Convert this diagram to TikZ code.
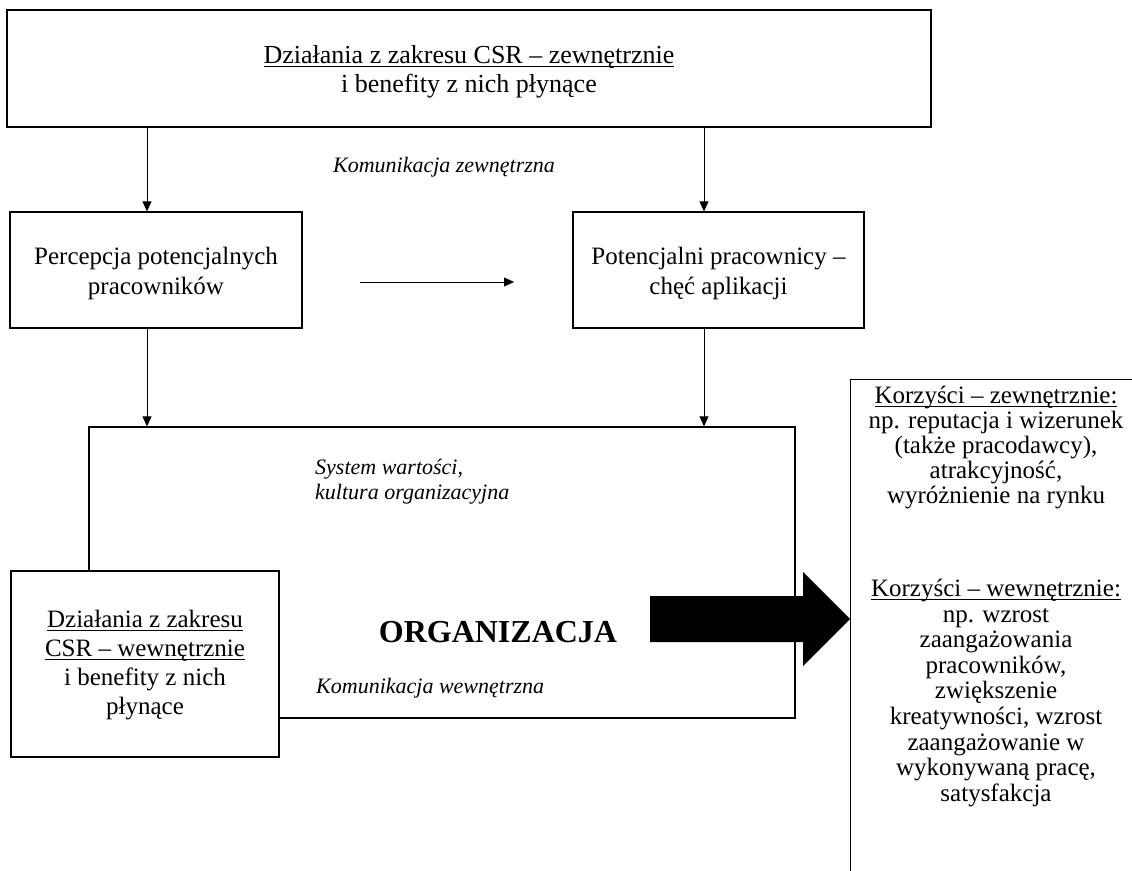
\documentclass[tikz,border=0pt]{standalone}
\usepackage{fontspec}
\setmainfont{Liberation Serif}
\usetikzlibrary{arrows.meta}
% underline at a fixed depth below the baseline
\newcommand\uln[1]{\setbox0\hbox{#1}\rlap{\rule[-0.13em]{\wd0}{0.04em}}\box0}

\begin{document}
\begin{tikzpicture}[x=1pt,y=-1pt,
  box/.style={draw, line width=1.3pt, inner sep=0pt, fill=white},
  txt/.style={align=center, inner sep=0pt},
  arr/.style={-{Triangle[length=10pt,width=9pt]}, line width=0.8pt},
  body/.style={font=\fontsize{25}{30}\selectfont},
  side/.style={align=center, inner sep=0pt},
  note/.style={font=\fontsize{22}{25}\selectfont\itshape, align=left, inner sep=0pt},
]
\useasboundingbox (0,0) rectangle (1132,870);
\fill[white] (0,0) rectangle (1132,870);

% external CSR activities
\node[box, minimum width=924pt, minimum height=117pt] (top) at (469,68.5) {};
\node[txt, font=\fontsize{26}{29}\selectfont] (top-t) at ([yshift=-3pt]top.center)
  {\uln{Działania z zakresu CSR – zewnętrznie}\\ i benefity z nich płynące};

% candidates
\node[box, minimum width=292pt, minimum height=116pt] (perc) at (156,270) {};
\node[txt, body] (perc-t) at ([yshift=-3pt]perc.center) {Percepcja potencjalnych\\ pracowników};
\node[box, minimum width=291pt, minimum height=116pt] (pot) at (718.5,270) {};
\node[txt, body] (pot-t) at ([yshift=-3pt]pot.center) {Potencjalni pracownicy –\\ chęć aplikacji};

% organisation frame
\node[box, minimum width=706pt, minimum height=291pt] (org) at (442,572.5) {};

% internal CSR activities (on top of the frame)
\node[box, minimum width=268pt, minimum height=186pt] (intern) at (145,664) {};
\node[txt, font=\fontsize{25}{29}\selectfont] (intern-t) at ([yshift=-1.5pt]intern.center)
  {\uln{Działania z zakresu}\\ \uln{CSR – wewnętrznie}\\ i benefity z nich\\ płynące};

% benefits box, running off the page
\node[box, anchor=north west, minimum width=330pt, minimum height=540pt] (korz) at (850,379) {};

% labels
\node[note] (kz) at (444,167) {Komunikacja zewnętrzna};
\node[note, anchor=north west] (sys) at (315,459) {System wartości,\\ kultura organizacyjna};
\node[note, anchor=west] (kw) at (316,688) {Komunikacja wewnętrzna};
\node[font=\fontsize{32}{36}\selectfont\bfseries, inner sep=0pt] (orgname) at (498,632) {ORGANIZACJA};

% benefits text
\node[side, font=\fontsize{25}{25}\selectfont, anchor=north] (ben1) at (996,386)
  {\uln{Korzyści – zewnętrznie:}\\ np. reputacja i wizerunek\\ (także pracodawcy),\\ atrakcyjność,\\ wyróżnienie na rynku};
\node[side, font=\fontsize{25}{25.6}\selectfont, anchor=north] (ben2) at (996,579)
  {\uln{Korzyści – wewnętrznie:}\\ np. wzrost\\ zaangażowania\\ pracowników,\\ zwiększenie\\ kreatywności, wzrost\\ zaangażowanie w\\ wykonywaną pracę,\\ satysfakcja};

% connectors
\coordinate (xl) at (147,0);
\coordinate (xr) at (704,0);
\draw[arr] (top.south -| xl) -- (perc.north -| xl);
\draw[arr] (top.south -| xr) -- (pot.north -| xr);
\draw[arr] (perc.south -| xl) -- (org.north -| xl);
\draw[arr] (pot.south -| xr) -- (org.north -| xr);
\coordinate (h1) at (360,282);
\coordinate (h2) at (514,282);
\draw[arr] (h1) -- (h2);

% block arrow from the organisation to the benefits
\fill[black] (650,596) -- (803,596) -- (803,572) -- (korz.west |- 0,619) -- (803,666) -- (803,642) -- (650,642) -- cycle;
\end{tikzpicture}
\end{document}
